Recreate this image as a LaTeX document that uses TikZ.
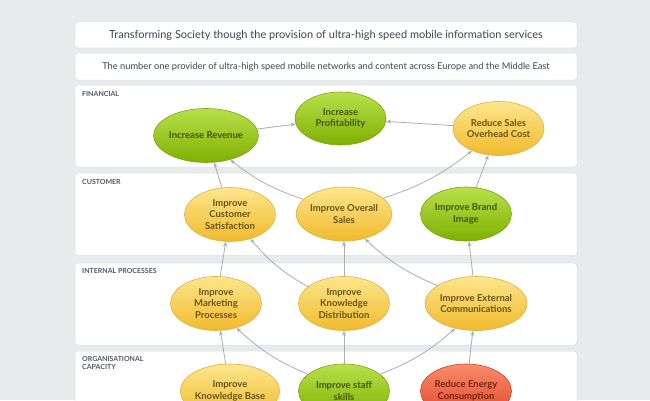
\documentclass[tikz,border=0pt]{standalone}
\usepackage{fontspec}
\setmainfont{Lato}
\usepackage{xcolor}
\usetikzlibrary{shapes.geometric, arrows.meta, positioning}

\definecolor{bgGray}{HTML}{E8EBEC}
\definecolor{panelEdge}{HTML}{DCE0E3}
\definecolor{headText}{HTML}{3C4350}
\definecolor{lblGray}{HTML}{4F5868}
\definecolor{arrGray}{HTML}{A8AEB5}
\definecolor{grnTop}{HTML}{B9E04C}
\definecolor{grnBot}{HTML}{7FB000}
\definecolor{grnEdge}{HTML}{7BA510}
\definecolor{grnText}{HTML}{445410}
\definecolor{ylwTop}{HTML}{FDE68C}
\definecolor{ylwBot}{HTML}{F1BA2E}
\definecolor{ylwEdge}{HTML}{DFB23C}
\definecolor{ylwText}{HTML}{655419}
\definecolor{redTop}{HTML}{F98C6C}
\definecolor{redBot}{HTML}{E2452A}
\definecolor{redEdge}{HTML}{CC4424}
\definecolor{redText}{HTML}{74260F}

\begin{document}
\begin{tikzpicture}[
  x=1pt, y=1pt,
  panel/.style={rounded corners=3pt, draw=panelEdge, fill=white, line width=0.5pt},
  banner/.style={rectangle, rounded corners=3pt, draw=panelEdge, fill=white, line width=0.5pt,
              minimum width=502pt, inner sep=0pt, text=headText},
  lbl/.style={anchor=north west, inner sep=0pt, align=left, text=lblGray,
              font=\fontsize{7}{8.5}\selectfont\bfseries},
  goal/.style={ellipse, minimum width=91pt, minimum height=54pt, inner sep=0pt,
              align=center, line width=0.6pt, font=\fontsize{9.5}{11.5}\selectfont\bfseries},
  grngoal/.style={goal, draw=grnEdge, top color=grnTop, bottom color=grnBot, text=grnText},
  ylwgoal/.style={goal, draw=ylwEdge, top color=ylwTop, bottom color=ylwBot, text=ylwText},
  redgoal/.style={goal, draw=redEdge, top color=redTop, bottom color=redBot, text=redText},
  arr/.style={-{Stealth[length=5pt,width=4pt]}, draw=arrGray, line width=0.8pt}
]

\useasboundingbox (0,0) rectangle (650,400);
\clip (0,0) rectangle (650,400);
\fill[bgGray] (0,0) rectangle (650,400);

% vision and mission
\node[banner, minimum height=26pt, font=\fontsize{11}{13}\selectfont] (vision) at (326,365)
  {Transforming Society though the provision of ultra-high speed mobile information services};
\node[banner, minimum height=27pt, font=\fontsize{9.3}{11}\selectfont] (mission) at (326,333.5)
  {The number one provider of ultra-high speed mobile networks and content across Europe and the Middle East};

% perspective panels
\draw[panel] (75,233) rectangle (577,315);
\draw[panel] (75,144.5) rectangle (577,227);
\draw[panel] (75,55) rectangle (577,137);
\draw[panel] (75,-30) rectangle (577,49);

\node[lbl] (finlbl) at (82,309) {FINANCIAL};
\node[lbl] (cuslbl) at (82,221) {CUSTOMER};
\node[lbl] (intlbl) at (82,132) {INTERNAL PROCESSES};
\node[lbl] (orglbl) at (82,44) {ORGANISATIONAL\\CAPACITY};

% financial
\node[grngoal] (revenue) at (206,264.5) {Increase Revenue};
\node[grngoal, minimum height=53pt] (profit) at (340.5,281.5) {Increase\\Profitability};
\node[ylwgoal] (overhead) at (498.5,271.5) {Reduce Sales\\Overhead Cost};

% customer
\node[ylwgoal] (satisf) at (230,185.5) {Improve\\Customer\\Satisfaction};
\node[ylwgoal] (sales) at (344,186) {Improve Overall\\Sales};
\node[grngoal] (brand) at (466,186) {Improve Brand\\Image};

% internal processes
\node[ylwgoal] (marketing) at (216,96.5) {Improve\\Marketing\\Processes};
\node[ylwgoal] (knowdist) at (344,96.5) {Improve\\Knowledge\\Distribution};
\node[ylwgoal] (extcomm) at (476,96.5) {Improve External\\Communications};

% organisational capacity
\node[ylwgoal] (knowbase) at (230,9) {Improve\\Knowledge Base};
\node[grngoal] (skills) at (344,9) {Improve staff\\skills};
\node[redgoal] (energy) at (466,9) {Reduce Energy\\Consumption};

\draw[arr] (revenue)  -- (profit);
\draw[arr] (overhead) -- (profit);
\draw[arr] (satisf)   -- (revenue);
\draw[arr] (sales.160) to[bend left=10] (revenue.-45);
\draw[arr] (sales.22) to[bend right=10] (overhead.-140);
\draw[arr] (brand)    -- (overhead);
\draw[arr] (marketing) -- (satisf);
\draw[arr] (knowdist.155) to[bend left=10] (satisf.-50);
\draw[arr] (knowdist) -- (sales);
\draw[arr] (extcomm.155) to[bend left=10] (sales.-50);
\draw[arr] (extcomm)  -- (brand);
\draw[arr] (knowbase) -- (marketing);
\draw[arr] (skills.155) to[bend left=10] (marketing.-50);
\draw[arr] (skills)   -- (knowdist);
\draw[arr] (skills.25) to[bend right=10] (extcomm.-130);
\draw[arr] (energy)   -- (extcomm);

\end{tikzpicture}
\end{document}
